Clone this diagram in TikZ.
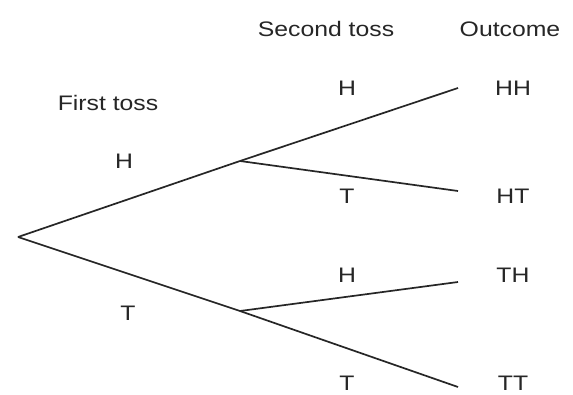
\documentclass[tikz,border=0pt]{standalone}
\usepackage{fontspec}
\setmainfont{Liberation Sans}[FakeStretch=1.18]
\begin{document}
\begin{tikzpicture}[x=1pt,y=-1pt,
  lbl/.style={font=\fontsize{21}{25}\selectfont, text=black!85, inner sep=0pt},
  branch/.style={line width=1.7pt, draw=black!85}]
\useasboundingbox[fill=white] (0,0) rectangle (573,394);
\coordinate (root) at (18,237);
\coordinate (up) at (240,161);
\coordinate (lo) at (240,311);
\coordinate (hh) at (458,88);
\coordinate (ht) at (458,191);
\coordinate (th) at (458,282);
\coordinate (tt) at (458,387);
\draw[branch] (root) -- (up);
\draw[branch] (root) -- (lo);
\draw[branch] (up) -- (hh);
\draw[branch] (up) -- (ht);
\draw[branch] (lo) -- (th);
\draw[branch] (lo) -- (tt);
\node[lbl] (h2) at (326,29) {Second toss};
\node[lbl] (h3) at (510,29) {Outcome};
\node[lbl] (h1) at (108,103) {First toss};
\node[lbl] (a1) at (124,161) {H};
\node[lbl] (a2) at (128,313) {T};
\node[lbl] (b1) at (347,88) {H};
\node[lbl] (b2) at (347,196) {T};
\node[lbl] (b3) at (347,275) {H};
\node[lbl] (b4) at (347,383) {T};
\node[lbl] (o1) at (513,88) {HH};
\node[lbl] (o2) at (513,196) {HT};
\node[lbl] (o3) at (513,275) {TH};
\node[lbl] (o4) at (513,383) {TT};
\end{tikzpicture}
\end{document}
